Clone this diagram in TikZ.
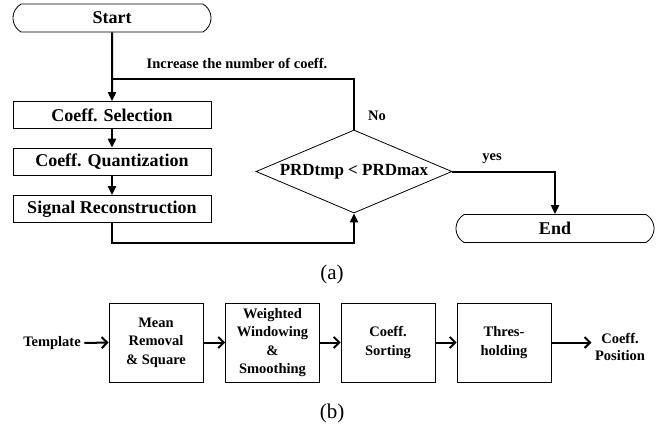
\documentclass[tikz,border=0pt]{standalone}
\usepackage{fontspec}
\setmainfont{Liberation Serif}
\usetikzlibrary{shapes.geometric,shapes.misc,arrows.meta}
\begin{document}
\begin{tikzpicture}[x=1pt,y=-1pt,
  proc/.style={draw, line width=0.8pt, minimum width=198pt, minimum height=27pt, inner sep=0pt, font=\fontsize{18}{20}\selectfont\bfseries},
  term/.style={draw, rounded rectangle, rounded rectangle arc length=120, line width=0.8pt, minimum width=198pt, minimum height=28pt, inner sep=0pt, font=\fontsize{18}{20}\selectfont\bfseries},
  conn/.style={line width=2pt},
  arr/.style={conn, -{Triangle[length=9pt,width=8pt]}},
  blk/.style={draw, line width=0.8pt, minimum width=94pt, minimum height=79pt, inner sep=0pt, align=center, font=\fontsize{14.5}{18.4}\selectfont\bfseries},
  barr/.style={line width=2pt, -{Straight Barb[length=5.5pt,width=11pt]}},
  lab/.style={font=\fontsize{14.5}{17}\selectfont\bfseries},
  captxt/.style={font=\fontsize{21}{24}\selectfont}
]
\useasboundingbox (0,0) rectangle (661,426);

% (a)
\node[term] (start) at (112,18) {Start};
\node[proc] (sel) at (112,115) {Coeff. Selection};
\node[proc] (quant) at (112,161.5) {Coeff. Quantization};
\node[proc] (rec) at (112,209) {Signal Reconstruction};
\node[diamond, draw, line width=0.8pt, aspect=2.37, minimum width=196pt, minimum height=83pt, inner sep=0pt, font=\fontsize{17}{19}\selectfont\bfseries] (dec) at (354,171.5) {PRDtmp < PRDmax};
\node[term] (end) at (555,228.5) {End};
\coordinate (j) at (112,79);
\coordinate (lowl) at (112,243);

\draw[arr] (start) -- (sel);
\draw[conn] (dec.north) |- (j);
\draw[arr] (sel) -- (quant);
\draw[arr] (quant) -- (rec);
\draw[arr] (rec.south) -- (lowl) -| (dec.south);
\draw[arr] (dec.east) -| (end.north);

\node[lab] (inc) at (237,63) {Increase the number of coeff.};
\node[lab] (no) at (377,116) {No};
\node[lab] (yes) at (492,159) {yes};
\node[captxt] (capa) at (332,274) {(a)};

% (b)
\node[lab] (tpl) at (52,343) {Template};
\node[blk] (b1) at (156,342.5) {Mean\\Removal\\\& Square};
\node[blk] (b2) at (272.5,342.5) {Weighted\\Windowing\\\&\\Smoothing};
\node[blk] (b3) at (388,342.5) {Coeff.\\Sorting};
\node[blk] (b4) at (504,342.5) {Thres-\\holding};
\node[lab, align=center] (out) at (620,347) {Coeff.\\Position};

\draw[barr] (tpl.east) -- (b1.west);
\draw[barr] (b1) -- (b2);
\draw[barr] (b2) -- (b3);
\draw[barr] (b3) -- (b4);
\draw[barr] (b4.east) -- (b4.east -| out.west);

\node[captxt] (capb) at (332,413) {(b)};
\end{tikzpicture}
\end{document}
